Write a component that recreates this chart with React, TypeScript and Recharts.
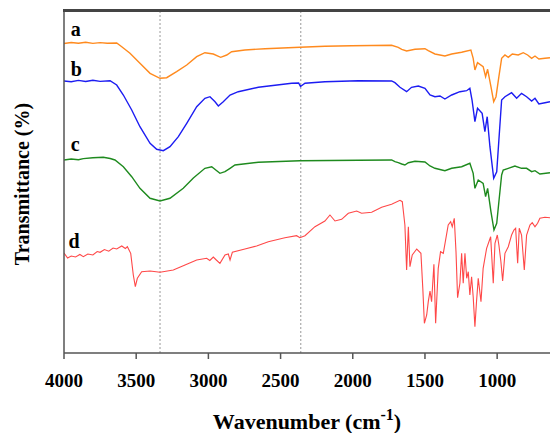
import { LineChart, Line, XAxis, YAxis, ReferenceLine, ReferenceDot, Label } from "recharts"

// wavenumber (cm-1) and offset transmittance (arbitrary units)
const wnA = [4000, 3950, 3900, 3850, 3800, 3750, 3700, 3635, 3600, 3543, 3474, 3404, 3335, 3289, 3220, 3150, 3081, 3024, 2966, 2915, 2873, 2839, 2747, 2608, 2366, 2193, 2008, 1731, 1685, 1661, 1627, 1569, 1500, 1477, 1431, 1362, 1315, 1246, 1182, 1166, 1154, 1136, 1097, 1080, 1066, 1043, 1024, 1008, 988, 969, 946, 923, 895, 854, 819, 789, 761, 738, 711, 669, 634]
const tA = [309.5, 310.5, 309.7, 310.8, 309.6, 310.4, 309.8, 310, 306.3, 299.7, 289.7, 279.7, 274.7, 275.3, 281.3, 288, 296.3, 300.3, 299, 295.7, 298, 301.3, 303, 304.3, 305.7, 306.7, 307.3, 307.7, 305.7, 303.7, 302, 303.7, 304.3, 302.3, 299, 297, 299, 300.7, 303, 294.7, 283, 290.3, 286.3, 276.3, 283.7, 266.3, 251.3, 256.3, 276.3, 294.7, 298, 295.7, 299, 298, 300.3, 298, 294.7, 297, 294, 294.7, 295.3]

const wnB = [4000, 3950, 3900, 3850, 3800, 3750, 3681, 3635, 3589, 3531, 3474, 3404, 3358, 3312, 3266, 3208, 3150, 3081, 3024, 2989, 2954, 2931, 2897, 2850, 2793, 2654, 2423, 2375, 2362, 2331, 2193, 1962, 1731, 1708, 1673, 1627, 1593, 1546, 1500, 1465, 1431, 1396, 1362, 1315, 1258, 1211, 1189, 1174, 1154, 1136, 1104, 1085, 1069, 1050, 1024, 1003, 988, 969, 946, 900, 865, 831, 796, 761, 738, 711, 669, 634]
const tB = [272, 271.2, 272.6, 271.5, 272.8, 271.6, 272.3, 268, 258, 243, 226.3, 209.7, 203.7, 202.3, 206.3, 216.3, 229.7, 246.3, 254.7, 256.3, 251.3, 247, 251.3, 258, 261.3, 265.7, 269.7, 270, 266.5, 269.7, 271.3, 272.3, 272, 270.3, 265.7, 261.3, 265.7, 267, 264.7, 258, 256.3, 257, 254, 258, 261.3, 262.3, 264.7, 253, 231.3, 244.7, 239.7, 221.3, 236.3, 206.3, 174.7, 181.3, 213, 253, 256.3, 260.3, 254.7, 259.7, 256.3, 252, 254.7, 249, 250.3, 251.3]

const wnC = [4000, 3950, 3900, 3866, 3800, 3728, 3680, 3647, 3589, 3531, 3474, 3404, 3335, 3266, 3174, 3104, 3024, 2977, 2920, 2885, 2850, 2816, 2654, 2366, 1962, 1731, 1708, 1685, 1661, 1639, 1615, 1569, 1500, 1465, 1431, 1362, 1315, 1246, 1189, 1166, 1154, 1131, 1097, 1080, 1066, 1043, 1022, 1003, 988, 969, 958, 923, 877, 831, 796, 761, 738, 704, 634]
const tC = [193, 194, 193.3, 194.4, 195.3, 195.7, 194.5, 193, 186.3, 176.3, 164.7, 154.7, 152, 154.7, 164.7, 175, 184.7, 186.3, 179.7, 181.3, 184.7, 188, 190.7, 192.3, 192.7, 193, 191.3, 190.3, 189, 188, 190.3, 191.7, 191, 187, 184.7, 182.3, 184.7, 186.3, 189.7, 179.7, 164.7, 173, 169.7, 156.3, 164.7, 141.3, 123, 129.7, 151.3, 178, 183, 184.7, 187, 184.7, 184.7, 181.3, 182.3, 179, 180.3]

const wnD = [
  4000, 3975, 3950, 3920, 3890, 3866, 3835, 3800, 3770, 3750,
  3720, 3690, 3660, 3635, 3600, 3575, 3561, 3538, 3520, 3506,
  3492, 3462, 3404, 3335, 3243, 3174, 3081, 3012, 2990, 2966,
  2945, 2920, 2885, 2862, 2850, 2834, 2747, 2666, 2585, 2470,
  2389, 2366, 2331, 2262, 2193, 2158, 2123, 2077, 2031, 1973,
  1939, 1869, 1800, 1731, 1673, 1657, 1639, 1627, 1615, 1604,
  1588, 1557, 1528, 1515, 1504, 1488, 1477, 1465, 1454, 1438,
  1426, 1408, 1392, 1373, 1339, 1322, 1311, 1297, 1285, 1274,
  1258, 1246, 1235, 1223, 1211, 1200, 1189, 1177, 1166, 1154,
  1143, 1131, 1112, 1097, 1073, 1045, 1027, 1015, 999, 988,
  974, 962, 946, 923, 900, 884, 872, 858, 847, 831,
  812, 796, 773, 757, 738, 720, 704, 669, 634,
]
const tD = [
  100, 95, 97, 96, 98.5, 96.3, 99, 98, 101.5, 100.7,
  103.5, 101.8, 105, 104, 107, 104.5, 106.3, 99.7, 78, 66.3,
  74.7, 81.3, 82, 80.7, 83, 87.3, 93, 94.7, 92.5, 96,
  93, 89.7, 98, 99, 93, 100.7, 104, 107, 111.3, 115.3,
  117.3, 115.3, 117.3, 126.3, 132, 138, 132, 133.7, 139.7, 142,
  139.7, 140.7, 145.7, 148.7, 152.7, 151.3, 128, 83, 126.3, 86.3,
  98, 104, 99.7, 64.7, 29.7, 38, 51.3, 62, 51.3, 88.7,
  29.7, 84.7, 101.3, 99.7, 128, 131.3, 126.3, 134.7, 101.3, 55.3,
  69.7, 99.7, 69.7, 99.7, 74.7, 81.3, 58, 76.3, 56.3, 26.3,
  51.3, 74.7, 51.3, 84.7, 104.7, 116.3, 69.7, 109.7, 118, 108,
  91.3, 72, 99.7, 106.3, 118, 123, 124.7, 89.7, 124.7, 118,
  83, 118, 128, 130.3, 126.3, 129.7, 134.7, 135.7, 135.3,
]

const xTicks = [4000, 3500, 3000, 2500, 2000, 1500, 1000]
const markers = [3335, 2360]

const zip = (wn: number[], t: number[]) => wn.map((w, i) => ({ wn: w, t: t[i] }))

const series = [
  { name: "a", data: zip(wnA, tA), color: "#FF8A1E", width: 1.4, labelAt: [3954, 317] },
  { name: "b", data: zip(wnB, tB), color: "#1C1CF2", width: 1.4, labelAt: [3954, 277] },
  { name: "c", data: zip(wnC, tC), color: "#1E8A1E", width: 1.4, labelAt: [3954, 202] },
  { name: "d", data: zip(wnD, tD), color: "#FF4848", width: 1.1, labelAt: [3968, 105] },
]

const serif = "'Liberation Serif', 'Times New Roman', serif"
const axisColor = "#555"
const plotTop = 11
const plotLeft = 64

function XTitle({ viewBox }: any) {
  const { x, y, width } = viewBox
  return (
    <text x={x + width / 2} y={y + 76} textAnchor="middle" fontFamily={serif} fontWeight="bold" fontSize={22} fill="#000">
      Wavenumber (cm
      <tspan dy={-9} fontSize={16}>-1</tspan>
      <tspan dy={9}>)</tspan>
    </text>
  )
}

export default function App() {
  return (
    <div style={{ position: "absolute", left: 0, top: 0, width: 550, height: 433, overflow: "hidden", background: "#fff" }}>
      <LineChart width={550} height={433} margin={{ top: plotTop, right: 0, bottom: 0, left: 0 }}>
        <XAxis
          dataKey="wn"
          type="number"
          domain={[634, 4000]}
          reversed
          allowDataOverflow
          ticks={xTicks}
          height={80}
          tickSize={6}
          tickMargin={15}
          axisLine={{ stroke: axisColor, strokeWidth: 1.5 }}
          tickLine={{ stroke: axisColor, strokeWidth: 1.5 }}
          tick={{ fill: "#000", fontSize: 19, fontWeight: "bold", fontFamily: serif }}
        >
          <Label content={<XTitle />} />
        </XAxis>
        <YAxis
          type="number"
          domain={[0, 342]}
          allowDataOverflow
          width={plotLeft}
          tick={false}
          tickLine={false}
          axisLine={{ stroke: axisColor, strokeWidth: 1.5 }}
          label={{
            value: "Transmittance (%)",
            angle: -90,
            position: "center",
            dx: -10,
            dy: 2,
            style: { fontFamily: serif, fontWeight: "bold", fontSize: 20, fill: "#000" },
          }}
        />
        {markers.map((m) => (
          <ReferenceLine key={m} x={m} stroke="#999" strokeDasharray="2 2" strokeWidth={1} />
        ))}
        {series.map((s) => (
          <Line
            key={s.name}
            data={s.data}
            dataKey="t"
            type="linear"
            stroke={s.color}
            strokeWidth={s.width}
            dot={false}
            isAnimationActive={false}
          />
        ))}
        {series.map((s) => (
          <ReferenceDot
            key={"lbl" + s.name}
            x={s.labelAt[0]}
            y={s.labelAt[1]}
            r={0}
            shape={(p: any) => (
              <text x={p.cx} y={p.cy} fontFamily={serif} fontWeight="bold" fontSize={20} fill="#000">
                {s.name}
              </text>
            )}
          />
        ))}
      </LineChart>
      {/* frame line along the top of the plot */}
      <div
        style={{
          position: "absolute",
          left: plotLeft - 1,
          top: plotTop - 2,
          width: 550 - plotLeft + 1,
          height: 3,
          background: "#444",
        }}
      />
    </div>
  )
}
